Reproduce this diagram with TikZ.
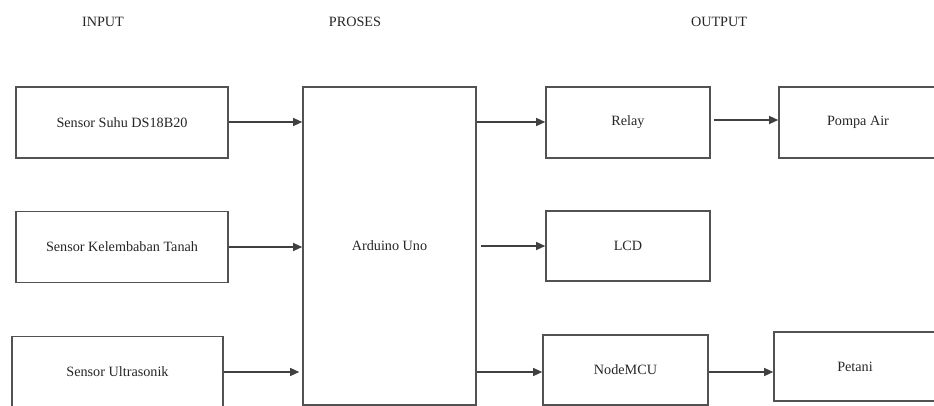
\documentclass[tikz,border=0pt]{standalone}
\usepackage{fontspec}
\setmainfont{Liberation Serif}
\usetikzlibrary{arrows.meta}
\begin{document}
\begin{tikzpicture}[x=1pt,y=-1pt,
  box/.style={draw=black!68, line width=1.6pt, rectangle, inner sep=0pt,
    font=\fontsize{14.2}{16}\selectfont, text=black!85},
  hdr/.style={font=\fontsize{14.2}{16}\selectfont, text=black!85},
  arr/.style={draw=black!75, line width=1.2pt, -{Triangle[length=9pt,width=8pt]}}]
\useasboundingbox (0,0) rectangle (934,406);
\clip (0,0) rectangle (934,406);
\node[hdr] (hin) at (103,22) {INPUT};
\node[hdr] (hpr) at (355,22) {PROSES};
\node[hdr] (hout) at (719,22) {OUTPUT};
\node[box, minimum width=212pt, minimum height=71pt] (suhu) at (122,122.5) {Sensor Suhu DS18B20};
\node[box, minimum width=212pt, minimum height=71pt] (kel) at (122,247) {Sensor Kelembaban Tanah};
\node[box, minimum width=211pt, minimum height=71pt] (ultra) at (117.5,372) {Sensor Ultrasonik};
\node[box, minimum width=173pt, minimum height=318pt] (ard) at (389.5,246) {Arduino Uno};
\node[box, minimum width=164pt, minimum height=71pt] (relay) at (628,122.5) {Relay};
\node[box, minimum width=158pt, minimum height=71pt] (pompa) at (858,122.5) {Pompa Air};
\node[box, minimum width=164pt, minimum height=70pt] (lcd) at (628,246) {LCD};
\node[box, minimum width=165pt, minimum height=70pt] (nmcu) at (625.5,370) {NodeMCU};
\node[box, minimum width=162pt, minimum height=69pt] (petani) at (855,366.5) {Petani};
\coordinate (ynm) at (0,372);
\coordinate (yrp) at (0,120);
\coordinate (ysr) at (0,122);
\draw[arr] (suhu.east |- ysr) -- (ard.west |- ysr);
\draw[arr] (kel.east) -- (kel.east -| ard.west);
\draw[arr, shorten >=3pt] (ultra.east) -- (ultra.east -| ard.west);
\draw[arr] (ard.east |- ysr) -- (relay.west |- ysr);
\draw[arr, shorten <=3pt] (relay.east |- yrp) -- (pompa.west |- yrp);
\draw[arr, shorten <=4pt] (ard.east |- lcd.west) -- (lcd.west);
\draw[arr] (ard.east |- ynm) -- (nmcu.west |- ynm);
\draw[arr] (nmcu.east |- ynm) -- (petani.west |- ynm);
\end{tikzpicture}
\end{document}
